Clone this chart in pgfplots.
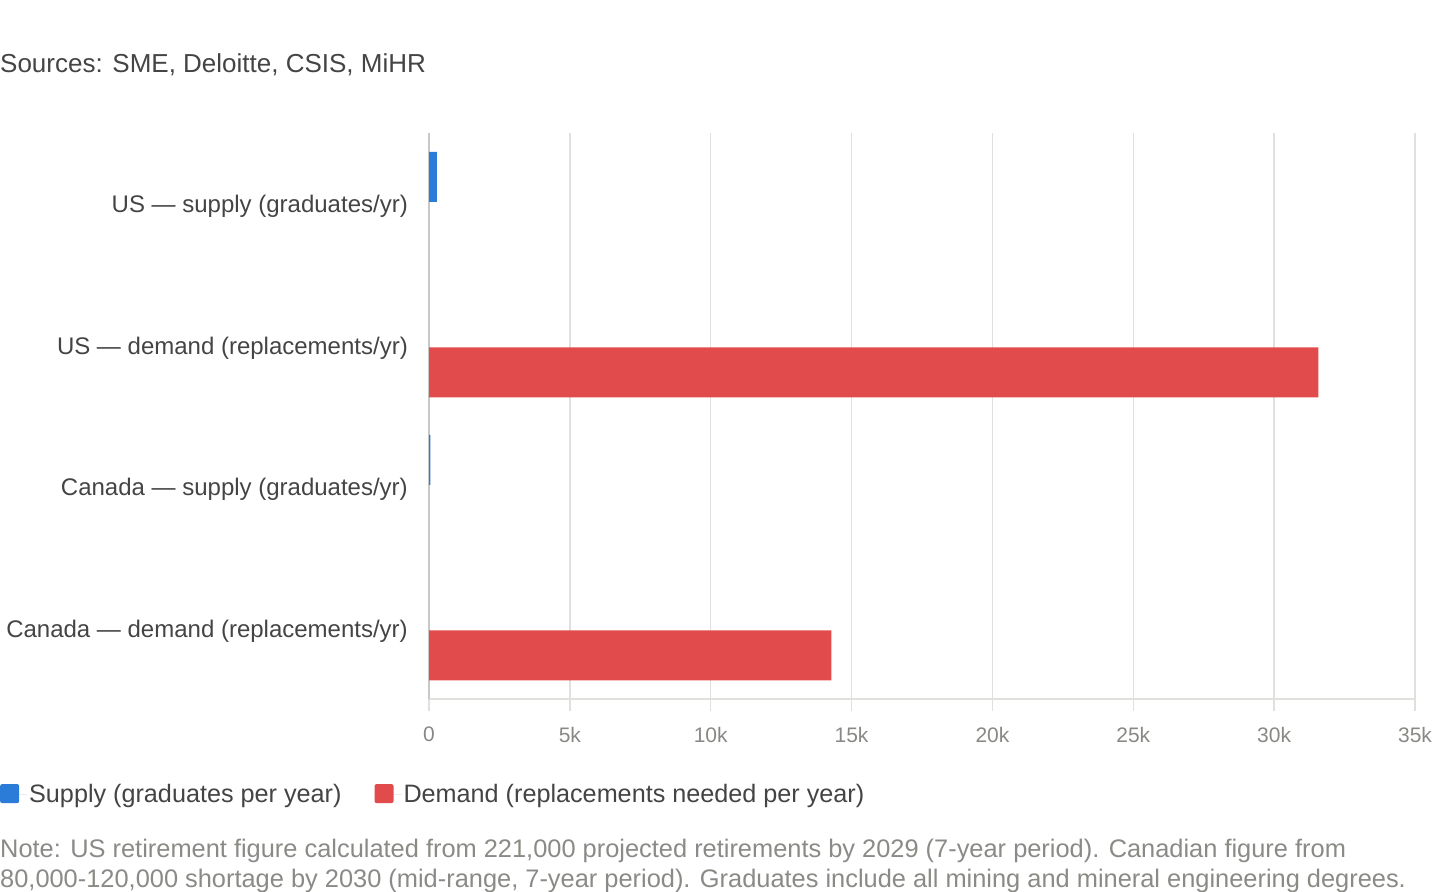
\documentclass[border=0pt]{standalone}
\usepackage{fontspec}
\setmainfont{Liberation Sans}
\usepackage{pgfplots}
\pgfplotsset{compat=1.18}
\definecolor{supc}{HTML}{2B7BD8}
\definecolor{demc}{HTML}{E24B4B}
\definecolor{txt}{HTML}{444444}
\definecolor{tickc}{HTML}{888884}
\definecolor{gridc}{HTML}{E0E0DC}
\definecolor{axc}{HTML}{C8C8C4}
\definecolor{notec}{HTML}{8A8A86}
\begin{document}
\begin{tikzpicture}
\useasboundingbox (0bp,0bp) rectangle (1440bp,-892bp);
\node[anchor=west,inner sep=0,text=txt,font=\fontsize{26bp}{30bp}\selectfont] at (0bp,-65bp) {Sources: SME, Deloitte, CSIS, MiHR};
\begin{axis}[
  at={(429bp,-699bp)}, anchor=south west, scale only axis,
  width=986bp, height=566bp,
  xbar, bar width=50bp,
  xmin=0, xmax=35000, ymin=-0.5, ymax=3.5,
  scaled x ticks=false,
  ytick={0,1,2,3},
  yticklabels={Canada — demand (replacements/yr),Canada — supply (graduates/yr),US — demand (replacements/yr),US — supply (graduates/yr)},
  xtick={0,5000,...,35000},
  xticklabels={0,5k,10k,15k,20k,25k,30k,35k},
  /pgf/number format/assume math mode=true,
  axis x line*=bottom, axis y line*=left,
  x axis line style={draw=gridc, line width=1.5bp, -},
  y axis line style={draw=axc, line width=1.5bp, -},
  xmajorgrids, grid style={draw=gridc, line width=1.5bp},
  tick align=outside,
  xtick style={draw=gridc, line width=1.5bp},
  ytick style={draw=none},
  major tick length=12bp,
  xticklabel style={text=tickc, font=\fontsize{21bp}{24bp}\selectfont, inner sep=0pt, yshift=-16bp},
  yticklabel style={text=txt, font=\fontsize{24bp}{28bp}\selectfont, inner sep=0pt, xshift=-9bp, yshift=-3bp},
  legend columns=2,
  legend style={at={(-0.4351,-0.1680)}, anchor=west, draw=none, fill=none, inner sep=0pt,
    font=\fontsize{25.2bp}{28bp}\selectfont, text=txt,
    /tikz/every even column/.append style={column sep=31bp}},
  legend image code/.code={\fill[#1, draw=none, rounded corners=2bp] (0bp,-9bp) rectangle (19bp,10bp); \path (0bp,0bp) -- (27bp,0bp);},
]
\addplot[fill=supc, draw=none, bar shift=27bp] coordinates {(280,3) (45,1)};
\addlegendentry{Supply (graduates per year)}
\addplot[fill=demc, draw=none, bar shift=-27bp] coordinates {(31571,2) (14286,0)};
\addlegendentry{Demand (replacements needed per year)}
\end{axis}
\node[anchor=west,inner sep=0,text=notec,font=\fontsize{25.4bp}{30bp}\selectfont,align=left] at (0bp,-866bp) {Note: US retirement figure calculated from 221,000 projected retirements by 2029 (7-year period). Canadian figure from\\80,000-120,000 shortage by 2030 (mid-range, 7-year period). Graduates include all mining and mineral engineering degrees.};
\end{tikzpicture}
\end{document}
